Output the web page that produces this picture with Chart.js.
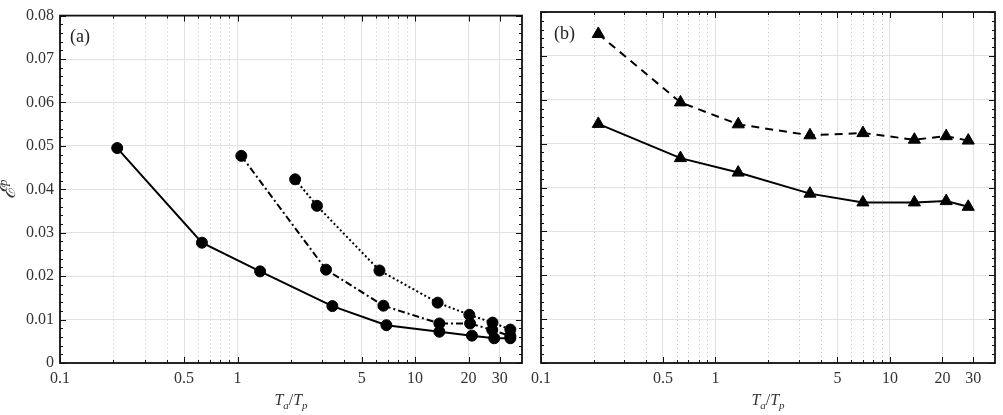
<!DOCTYPE html>
<html>
<head>
<meta charset="utf-8">
<script src="https://cdn.jsdelivr.net/npm/chart.js@4.4.1/dist/chart.umd.min.js"></script>
<style>
  html, body { margin: 0; padding: 0; background: #fff; }
  #wrap { position: relative; width: 1003px; height: 415px; }
  #wrap canvas { position: absolute; top: 0; }
</style>
</head>
<body>
<div id="wrap">
  <canvas id="chartA" width="531" height="415" style="left:0"></canvas>
  <canvas id="chartB" width="502" height="415" style="left:501px"></canvas>
</div>
<script>
// panel (a): three curves with circle markers
const xA1 = [0.21, 0.63, 1.34, 3.42, 6.89, 13.7, 20.9, 27.9, 34.4];
const yA1 = [0.0495, 0.0277, 0.0211, 0.0131, 0.0087, 0.0072, 0.0063, 0.0057, 0.0057];
const xA2 = [1.05, 3.15, 6.63, 13.7, 20.4, 27.2, 34.4];
const yA2 = [0.0477, 0.0215, 0.0132, 0.0091, 0.0091, 0.0076, 0.0062];
const xA3 = [2.11, 2.8, 6.3, 13.4, 20.2, 27.3, 34.4];
const yA3 = [0.0423, 0.0362, 0.0213, 0.0139, 0.0111, 0.0093, 0.0077];

// panel (b): two curves with triangle markers
const xB = [0.213, 0.63, 1.35, 3.48, 7.0, 13.8, 21.0, 28.1];
const yB1 = [0.0750, 0.0594, 0.0544, 0.0519, 0.0524, 0.0509, 0.0517, 0.0507];
const yB2 = [0.0545, 0.0467, 0.0434, 0.0386, 0.0366, 0.0366, 0.0369, 0.0356];

// axes
const xTickVals = [0.1, 0.5, 1, 5, 10, 20, 30];
const xMinorVals = [0.2, 0.3, 0.4, 0.6, 0.7, 0.8, 0.9, 2, 3, 4, 6, 7, 8, 9];
const yTickVals = [0, 0.01, 0.02, 0.03, 0.04, 0.05, 0.06, 0.07, 0.08];

const pts = (xs, ys) => xs.map((x, i) => ({ x: x, y: ys[i] }));
const SERIF = "'Liberation Serif', 'DejaVu Serif', serif";

function series(data, dash, marker, radius) {
  return {
    data: data,
    showLine: true,
    borderColor: '#000',
    backgroundColor: '#000',
    borderWidth: 2,
    borderDash: dash,
    pointStyle: marker,
    pointRadius: radius,
    pointBorderWidth: 1,
    tension: 0
  };
}

// frame, minor grid, inward ticks, panel label and axis titles
const deco = {
  id: 'deco',
  beforeDatasetsDraw(chart, args, opts) {
    const { ctx, chartArea: a, scales: { x } } = chart;
    ctx.save();
    ctx.strokeStyle = '#c4c4c4';
    ctx.lineWidth = 1;
    ctx.setLineDash([1, 3]);
    ctx.beginPath();
    xMinorVals.forEach(v => {
      const px = Math.round(x.getPixelForValue(v)) + 0.5;
      ctx.moveTo(px, a.top);
      ctx.lineTo(px, a.bottom);
    });
    ctx.stroke();
    ctx.restore();
  },
  afterDraw(chart, args, opts) {
    const { ctx, chartArea: a, scales: { x, y } } = chart;
    ctx.save();
    ctx.strokeStyle = '#111';
    ctx.lineWidth = 1;
    ctx.beginPath();
    xTickVals.forEach(v => {
      const px = Math.round(x.getPixelForValue(v)) + 0.5;
      ctx.moveTo(px, a.bottom); ctx.lineTo(px, a.bottom - 6);
      ctx.moveTo(px, a.top); ctx.lineTo(px, a.top + 6);
    });
    xMinorVals.forEach(v => {
      const px = Math.round(x.getPixelForValue(v)) + 0.5;
      ctx.moveTo(px, a.bottom); ctx.lineTo(px, a.bottom - 3);
      ctx.moveTo(px, a.top); ctx.lineTo(px, a.top + 3);
    });
    for (let i = 0; i <= 40; i++) {
      const py = Math.round(y.getPixelForValue(i * 0.002)) + 0.5;
      const len = i % 5 === 0 ? 6 : 3;
      ctx.moveTo(a.left, py); ctx.lineTo(a.left + len, py);
      ctx.moveTo(a.right, py); ctx.lineTo(a.right - len, py);
    }
    ctx.stroke();

    ctx.lineWidth = 1.8;
    ctx.strokeRect(a.left, a.top, a.right - a.left, a.bottom - a.top);

    // panel label
    ctx.fillStyle = '#222';
    ctx.font = '18px ' + SERIF;
    ctx.textBaseline = 'middle';
    ctx.textAlign = 'left';
    ctx.fillText(opts.label, a.left + opts.labelDx, a.top + 22);

    // x title T_a/T_p
    const big = 'italic 16px ' + SERIF, small = 'italic 11px ' + SERIF;
    const parts = [['T', big, 0], ['a', small, 4], ['/', '16px ' + SERIF, 0], ['T', big, 0], ['p', small, 4]];
    let w = 0;
    parts.forEach(p => { ctx.font = p[1]; w += ctx.measureText(p[0]).width; });
    let cx = (a.left + a.right) / 2 - w / 2;
    ctx.textBaseline = 'alphabetic';
    ctx.fillStyle = '#333';
    parts.forEach(p => {
      ctx.font = p[1];
      ctx.fillText(p[0], cx, 405 + p[2]);
      cx += ctx.measureText(p[0]).width;
    });

    // y title
    if (opts.yTitle) {
      ctx.translate(15, (a.top + a.bottom) / 2);
      ctx.rotate(-Math.PI / 2);
      ctx.font = 'italic 21px ' + SERIF;
      const ew = ctx.measureText('ℰ').width;
      ctx.font = 'italic 13px ' + SERIF;
      const pw = ctx.measureText('p').width;
      let sx = -(ew + pw) / 2;
      ctx.font = 'italic 21px ' + SERIF;
      ctx.fillText('ℰ', sx, 0);
      ctx.font = 'italic 13px ' + SERIF;
      ctx.fillText('p', sx + ew, -8);
    }
    ctx.restore();
  }
};

function makeOptions(yWidth, padRight, label, labelDx, yTitle) {
  return {
    responsive: false,
    animation: false,
    layout: { padding: { top: 12, right: padRight, left: 0, bottom: 0 } },
    scales: {
      x: {
        type: 'logarithmic',
        min: 0.1,
        max: 40,
        afterBuildTicks: s => { s.ticks = xTickVals.map(v => ({ value: v })); },
        afterFit: s => { s.height = 52; },
        ticks: {
          callback: v => String(v),
          font: { family: SERIF, size: 16 },
          color: '#333',
          padding: 6,
          maxRotation: 0,
          autoSkip: false
        },
        grid: { color: '#e2e2e2', lineWidth: 1, drawTicks: false },
        border: { display: false }
      },
      y: {
        min: 0,
        max: 0.08,
        afterBuildTicks: s => { s.ticks = yTickVals.map(v => ({ value: v })); },
        afterFit: s => { s.width = yWidth; },
        ticks: {
          display: yTitle,
          callback: v => String(Number(v.toFixed(2))),
          font: { family: SERIF, size: 16 },
          color: '#333',
          padding: 6
        },
        grid: { color: '#e2e2e2', lineWidth: 1, drawTicks: false },
        border: { display: false }
      }
    },
    plugins: {
      legend: { display: false },
      tooltip: { enabled: false },
      deco: { label: label, labelDx: labelDx, yTitle: yTitle }
    }
  };
}

new Chart(document.getElementById('chartA'), {
  type: 'scatter',
  data: {
    datasets: [
      series(pts(xA1, yA1), [], 'circle', 5.5),
      series(pts(xA2, yA2), [7, 3, 2, 3], 'circle', 5.5),
      series(pts(xA3, yA3), [2, 2.5], 'circle', 5.5)
    ]
  },
  options: makeOptions(60, 9, '(a)', 10, true),
  plugins: [deco]
});

new Chart(document.getElementById('chartB'), {
  type: 'scatter',
  data: {
    datasets: [
      series(pts(xB, yB1), [8, 6], 'triangle', 7),
      series(pts(xB, yB2), [], 'triangle', 7)
    ]
  },
  options: makeOptions(40, 2, '(b)', 13, false),
  plugins: [deco]
});
</script>
</body>
</html>
